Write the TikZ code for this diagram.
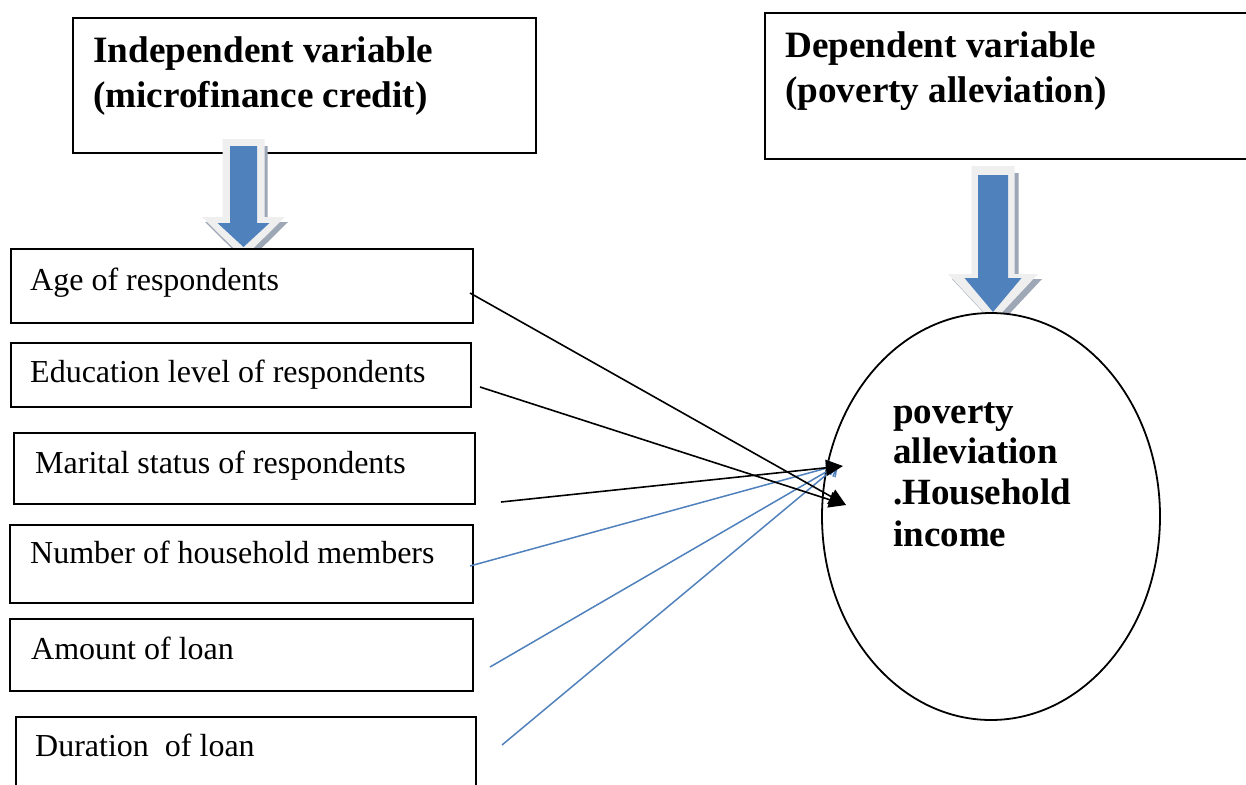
\documentclass[tikz,border=0pt]{standalone}
\usepackage{fontspec}
\setmainfont{Liberation Serif}
\usetikzlibrary{arrows.meta}
\definecolor{officeblue}{HTML}{4F81BD}
\definecolor{glowgray}{HTML}{EFEFEF}
\definecolor{shadowgray}{HTML}{9EA7B6}
% #1 style, #2 centre x, #3 top y, #4 shaft half width, #5 head base y, #6 head half width, #7 tip y
\newcommand\myblockarrow[7]{%
  \path[#1] (#2-#4,#3) -- (#2+#4,#3) -- (#2+#4,#5) -- (#2+#6,#5) -- (#2,#7)
    -- (#2-#6,#5) -- (#2-#4,#5) -- cycle;}
\begin{document}
\begin{tikzpicture}[x=1pt,y=-1pt,
  box/.style={draw=black, line width=1.8pt, fill=white, rectangle, inner sep=0pt, anchor=north west},
  lbl/.style={anchor=base west, inner sep=0pt, font=\fontsize{32}{37}\selectfont},
  head/.style={anchor=base west, inner sep=0pt, align=left, font=\fontsize{37.2}{44}\selectfont\bfseries},
  outtxt/.style={anchor=base west, inner sep=0pt, font=\fontsize{37}{41}\selectfont\bfseries},
  blk/.style={draw=black, line width=1.6pt, -{Triangle[length=17pt,width=16pt]}},
  blu/.style={draw=officeblue, line width=1.5pt, -{Straight Barb[length=9pt,width=15pt,line width=1.5pt]}},
  blueshape/.style={fill=officeblue},
  glowshape/.style={fill=glowgray},
  shadowshape/.style={fill=shadowgray}]
\useasboundingbox (0,0) rectangle (1246,784);
\fill[white] (0,0) rectangle (1246,784);

% header boxes
\node[box, minimum width=463pt, minimum height=135pt] (indep) at (72,17) {};
\node[head] (indeptxt) at (93,63) {Independent variable};
\node[head] (indeptxt2) at (93,107) {(microfinance credit)};
\node[box, minimum width=520pt, minimum height=146pt] (dep) at (764,12) {};
\node[head] (deptxt) at (785,57) {Dependent variable};
\node[head] (deptxt2) at (785,102) {(poverty alleviation)};

% block arrows
\begin{scope}[shift={(3,5)}]
\myblockarrow{shadowshape}{243.5}{141}{21}{217}{41.5}{258}
\end{scope}
\myblockarrow{glowshape}{243.5}{139}{21}{217}{41.5}{258}
\myblockarrow{blueshape}{243.5}{146}{13.5}{223}{26}{247}

\begin{scope}[shift={(4,5)}]
\myblockarrow{shadowshape}{993}{168}{21.5}{274}{45}{322}
\end{scope}
\myblockarrow{glowshape}{993}{166}{21.5}{274}{45}{322}
\myblockarrow{blueshape}{993}{175}{15}{278}{28.5}{312}

% variable boxes
\node[box, minimum width=462pt, minimum height=74pt] (age) at (10,248) {};
\node[lbl] (agetxt) at (30,290) {Age of respondents};
\node[box, minimum width=460pt, minimum height=64pt] (edu) at (10,342) {};
\node[lbl] (edutxt) at (30,382) {Education level of respondents};
\node[box, minimum width=461pt, minimum height=71pt] (mar) at (13,432) {};
\node[lbl] (martxt) at (35,473) {Marital status of respondents};
\node[box, minimum width=463pt, minimum height=78pt] (num) at (9,524) {};
\node[lbl] (numtxt) at (30,563) {Number of household members};
\node[box, minimum width=463pt, minimum height=72pt] (amt) at (9,618) {};
\node[lbl] (amttxt) at (31,659) {Amount of loan};
\node[box, minimum width=460pt, minimum height=80pt] (dur) at (15,716) {};
\node[lbl] (durtxt) at (35,756) {Duration\ \ of loan};

% outcome ellipse
\draw[line width=1.8pt, fill=white] (991,516.5) ellipse [x radius=169pt, y radius=203.5pt];
\coordinate (ell) at (991,516.5);
\node[outtxt] (o1) at (893,423) {poverty};
\node[outtxt] (o2) at (893,463) {alleviation};
\node[outtxt] (o3) at (893,504) {.Household};
\node[outtxt] (o4) at (893,546) {income};

% connectors
\coordinate (sa) at (470,293);
\coordinate (se) at (480,387);
\coordinate (sm) at (501,502);
\coordinate (sn) at (470,566);
\coordinate (sl) at (490,667);
\coordinate (sd) at (502,745);
\coordinate (tlow) at (846,505);
\coordinate (tup) at (843,466);
\coordinate (tb) at (838,465);

\draw[blu] (sn) -- (tb);
\draw[blu] (sl) -- (tb);
\draw[blu] (sd) -- (tb);
\draw[blk] (sa) -- (tlow);
\draw[blk] (se) -- (tlow);
\draw[blk] (sm) -- (tup);
\end{tikzpicture}
\end{document}
